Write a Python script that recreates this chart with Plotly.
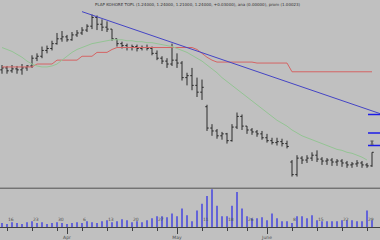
import pandas as pd
import plotly.graph_objects as go

# ---- data -----------------------------------------------------------------
holidays = ["2009-05-01", "2009-05-21", "2009-05-25"]
dates = pd.bdate_range("2009-03-13", "2009-06-30")
dates = dates[~dates.isin(pd.to_datetime(holidays))]
idx = list(range(len(dates)))

open_ = [1.64, 1.65, 1.635, 1.645, 1.64, 1.65, 1.66, 1.70, 1.71, 1.74,
         1.75, 1.775, 1.80, 1.81, 1.795, 1.82, 1.83, 1.845, 1.865, 1.91,
         1.875, 1.86, 1.85, 1.80, 1.775, 1.765, 1.755, 1.76, 1.75, 1.755,
         1.75, 1.725, 1.70, 1.685, 1.67, 1.69, 1.675, 1.60, 1.61, 1.56,
         1.525, 1.45, 1.34, 1.325, 1.30, 1.31, 1.275, 1.345, 1.40, 1.35,
         1.33, 1.32, 1.31, 1.29, 1.275, 1.265, 1.27, 1.26, 1.165, 1.10,
         1.185, 1.175, 1.185, 1.20, 1.18, 1.17, 1.175, 1.165, 1.17, 1.16,
         1.15, 1.155, 1.16, 1.15, 1.145]
high = [1.665, 1.66, 1.665, 1.66, 1.67, 1.665, 1.715, 1.725, 1.76, 1.765,
        1.79, 1.83, 1.84, 1.82, 1.835, 1.845, 1.86, 1.875, 1.925, 1.92,
        1.90, 1.89, 1.85, 1.80, 1.785, 1.775, 1.77, 1.77, 1.765, 1.77,
        1.76, 1.74, 1.71, 1.70, 1.775, 1.725, 1.685, 1.625, 1.65, 1.60,
        1.59, 1.46, 1.36, 1.335, 1.32, 1.315, 1.36, 1.42, 1.41, 1.35,
        1.34, 1.33, 1.325, 1.31, 1.29, 1.29, 1.285, 1.275, 1.175, 1.20,
        1.195, 1.20, 1.215, 1.225, 1.19, 1.185, 1.185, 1.18, 1.18, 1.17,
        1.165, 1.175, 1.17, 1.16, 1.215]
low = [1.62, 1.62, 1.625, 1.62, 1.615, 1.635, 1.65, 1.685, 1.70, 1.725,
       1.74, 1.77, 1.785, 1.785, 1.79, 1.81, 1.82, 1.835, 1.85, 1.845,
       1.84, 1.835, 1.79, 1.76, 1.75, 1.74, 1.74, 1.735, 1.74, 1.74,
       1.715, 1.69, 1.67, 1.65, 1.66, 1.65, 1.585, 1.56, 1.535, 1.50,
       1.485, 1.325, 1.30, 1.285, 1.28, 1.26, 1.27, 1.335, 1.33, 1.31,
       1.305, 1.295, 1.28, 1.265, 1.255, 1.25, 1.245, 1.235, 1.09, 1.09,
       1.155, 1.16, 1.17, 1.165, 1.15, 1.15, 1.145, 1.145, 1.14, 1.135,
       1.135, 1.14, 1.135, 1.135, 1.14]
close = [1.65, 1.635, 1.645, 1.64, 1.65, 1.66, 1.70, 1.71, 1.74, 1.75,
         1.775, 1.80, 1.81, 1.795, 1.82, 1.83, 1.845, 1.865, 1.91, 1.875,
         1.86, 1.85, 1.80, 1.775, 1.765, 1.755, 1.76, 1.75, 1.755, 1.75,
         1.725, 1.70, 1.685, 1.67, 1.69, 1.675, 1.60, 1.61, 1.56, 1.525,
         1.55, 1.34, 1.325, 1.30, 1.31, 1.275, 1.345, 1.40, 1.35, 1.33,
         1.32, 1.31, 1.29, 1.275, 1.265, 1.27, 1.26, 1.245, 1.10, 1.185,
         1.175, 1.185, 1.20, 1.18, 1.17, 1.175, 1.165, 1.17, 1.16, 1.15,
         1.155, 1.16, 1.15, 1.145, 1.215]

ma_green = [1.755, 1.745, 1.735, 1.72, 1.705, 1.685, 1.67, 1.66, 1.655, 1.655,
            1.66, 1.67, 1.69, 1.71, 1.73, 1.745, 1.755, 1.765, 1.775, 1.78,
            1.785, 1.79, 1.795, 1.795, 1.795, 1.79, 1.79, 1.785, 1.785, 1.78,
            1.78, 1.775, 1.77, 1.765, 1.76, 1.75, 1.74, 1.73, 1.715, 1.70,
            1.685, 1.665, 1.645, 1.625, 1.60, 1.58, 1.56, 1.54, 1.52, 1.50,
            1.48, 1.46, 1.44, 1.42, 1.40, 1.38, 1.365, 1.35, 1.33, 1.315,
            1.30, 1.29, 1.28, 1.27, 1.26, 1.25, 1.24, 1.23, 1.225, 1.215,
            1.21, 1.20, 1.19, 1.175, None]
ma_red = [1.655] * 7 + [1.67] * 4 + [1.69] * 5 + [1.71] * 3 + [1.73] * 3 + [1.745] \
    + [1.755] * 16 + [1.745, 1.725, 1.705, 1.69] + [1.68] * 8 + [1.675] * 7 + [1.63] * 17

volume = [4, 3, 5, 4, 3, 5, 6, 4, 5, 3, 4, 5, 4, 3, 4, 5, 4, 6, 5, 4,
          6, 7, 5, 6, 8, 7, 5, 6, 5, 7, 9, 11, 11, 10, 14, 11, 19, 12,
          6, 17, 24, 32, 39, 22, 11, 11, 22, 36, 19, 11, 9, 9, 10, 7, 14,
          9, 6, 6, 4, 11, 11, 9, 12, 7, 6, 6, 6, 6, 7, 7, 7, 6, 6, 17, 7]

trend_x = [16, 76]
trend_y = [1.94, 1.411]
level_x = [73.2, 75.6]
levels = [1.41, 1.315, 1.25]
mark_x = [74]
mark_y = [1.265]

title_text = ("PLAP KOHORE TOPL (1.24000, 1.24000, 1.21000, 1.24000, +0.03000), "
              "ana (0.00000), prom (1.00023)")
month_names = {4: "Apr", 5: "May", 6: "June"}

# ---- ticks from the calendar ---------------------------------------------
week_vals, week_text, month_vals, month_text = [], [], [], []
for i in range(1, len(dates)):
    d, p = dates[i], dates[i - 1]
    new_month = d.month != p.month
    new_week = d.isocalendar().week != p.isocalendar().week
    if new_month:
        month_vals.append(i)
        month_text.append(month_names.get(d.month, d.strftime("%b")))
    elif new_week:
        week_vals.append(i)
        week_text.append(str(d.day))

# ---- figure ---------------------------------------------------------------
BG = "#c0c0c0"
split = 40 / 234

fig = go.Figure()
fig.add_trace(go.Bar(x=idx, y=volume, width=0.22, marker_color="#6464d8",
                     marker_line_width=0, xaxis="x", yaxis="y2"))
fig.add_trace(go.Scatter(x=idx, y=ma_red, mode="lines",
                         line=dict(color="#d46464", width=1), xaxis="x", yaxis="y"))
fig.add_trace(go.Scatter(x=idx, y=ma_green, mode="lines",
                         line=dict(color="#94c494", width=1), xaxis="x", yaxis="y"))
fig.add_trace(go.Scatter(x=trend_x, y=trend_y, mode="lines",
                         line=dict(color="#4444c4", width=1), xaxis="x", yaxis="y"))
for lv in levels:
    fig.add_trace(go.Scatter(x=level_x, y=[lv, lv], mode="lines",
                             line=dict(color="#1c1ce8", width=1.5), xaxis="x", yaxis="y"))
fig.add_trace(go.Ohlc(x=idx, open=open_, high=high, low=low, close=close,
                      increasing_line_color="#2a2a2a", decreasing_line_color="#2a2a2a",
                      line_width=1, tickwidth=0.35, xaxis="x", yaxis="y"))
fig.add_trace(go.Scatter(x=mark_x, y=mark_y, mode="markers",
                         marker=dict(size=1, color="#505050"),
                         error_y=dict(type="constant", value=0.008, width=1.5,
                                      thickness=1, color="#505050"),
                         xaxis="x", yaxis="y"))
# helper for the month axis (invisible)
fig.add_trace(go.Scatter(x=idx, y=volume, mode="none", hoverinfo="skip",
                         xaxis="x3", yaxis="y2"))

xr = [-0.4, 75.6]
fig.update_layout(
    width=380, height=240,
    margin=dict(l=0, r=0, t=0, b=6),
    paper_bgcolor=BG, plot_bgcolor=BG,
    showlegend=False,
    font=dict(family="DejaVu Sans", size=5, color="#404040"),
    xaxis=dict(domain=[0, 1], range=xr, anchor="y2",
               tickvals=week_vals, ticktext=week_text,
               ticks="outside", ticklen=3, tickcolor="#404040", tickwidth=1,
               ticklabelposition="inside right",
               tickfont=dict(size=4.5, color="#505050"),
               showline=True, linecolor="#404040", linewidth=1,
               showgrid=False, zeroline=False,
               rangeslider=dict(visible=False)),
    xaxis3=dict(overlaying="x", anchor="y2", range=xr, side="bottom",
                tickvals=month_vals, ticktext=month_text,
                ticks="outside", ticklen=6, tickcolor="#404040", tickwidth=1,
                tickfont=dict(size=4.5, color="#505050"),
                showline=False, showgrid=False, zeroline=False),
    yaxis=dict(domain=[split, 1], range=[1.03, 2.0], visible=False),
    yaxis2=dict(domain=[0, split], range=[0, 40], visible=False),
    shapes=[dict(type="line", xref="paper", yref="paper", x0=0, x1=1,
                 y0=split, y1=split, line=dict(color="#505050", width=1))],
    annotations=[dict(text=title_text, xref="paper", yref="paper",
                      x=93 / 380, y=1 - 5 / 234, xanchor="left", yanchor="middle",
                      showarrow=False, font=dict(size=4, color="#303030"))],
)

fig.write_html("out.html")
